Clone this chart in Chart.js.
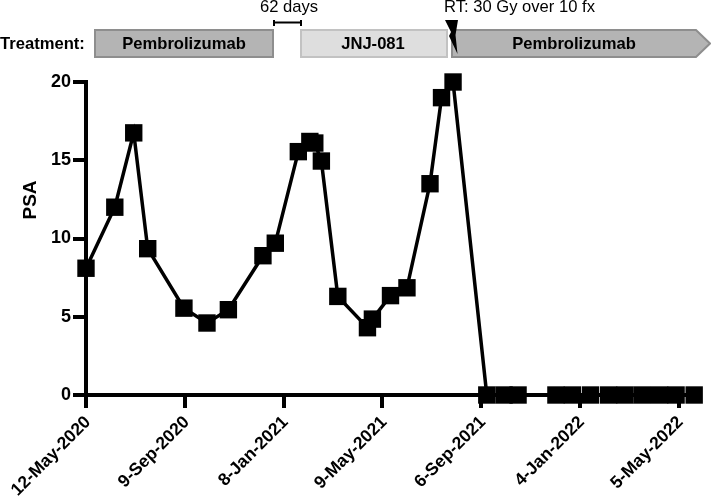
<!DOCTYPE html>
<html>
<head>
<meta charset="utf-8">
<style>
	html, body { margin: 0; padding: 0; background: #fff; }
	#wrap { width: 711px; height: 496px; }
</style>
<script src="https://cdn.jsdelivr.net/npm/chart.js@4"></script>
</head>
<body>
<div id="wrap"><canvas id="psa" width="711" height="496"></canvas></div>
<script>
// days since 12-May-2020
const days = [0, 35, 58, 75, 119, 147, 173, 215, 230, 258, 272, 278, 286, 306, 342, 348, 370, 390, 418, 432, 446,
	487, 508, 525, 571, 591, 613, 635, 655, 676, 697, 717, 739];
const psa = [8.1, 12, 16.75, 9.35, 5.55, 4.6, 5.45, 8.9, 9.7, 15.55, 16.2, 16.1, 14.95, 6.3, 4.3, 4.85, 6.35, 6.85, 13.5, 19, 20,
	0, 0, 0, 0, 0, 0, 0, 0, 0, 0, 0, 0];
const tickLabels = ["12-May-2020", "9-Sep-2020", "8-Jan-2021", "9-May-2021", "6-Sep-2021", "4-Jan-2022", "5-May-2022"];
const treatments = ["Pembrolizumab", "JNJ-081", "Pembrolizumab"];

const BOLD = "bold 16.6px 'Liberation Sans'";
const REGULAR = "16.6px 'Liberation Sans'";

function box(ctx, x0, x1, fill, stroke) {
	ctx.fillStyle = fill;
	ctx.strokeStyle = stroke;
	ctx.lineWidth = 2;
	ctx.fillRect(x0, 30, x1 - x0, 27);
	ctx.strokeRect(x0, 30, x1 - x0, 27);
}

const treatmentBand = {
	id: "treatmentBand",
	afterDraw(chart) {
		const ctx = chart.ctx;
		ctx.save();

		box(ctx, 95, 273, "#b4b4b4", "#8e8e8e");
		box(ctx, 301, 447, "#dedede", "#c2c2c2");

		// last treatment is still going on, so an arrow
		ctx.fillStyle = "#b4b4b4";
		ctx.strokeStyle = "#8e8e8e";
		ctx.lineWidth = 2;
		ctx.beginPath();
		ctx.moveTo(452, 30);
		ctx.lineTo(696, 30);
		ctx.lineTo(710, 43.5);
		ctx.lineTo(696, 57);
		ctx.lineTo(452, 57);
		ctx.closePath();
		ctx.fill();
		ctx.stroke();

		ctx.fillStyle = "#000";
		ctx.textBaseline = "middle";
		ctx.font = BOLD;
		ctx.textAlign = "left";
		ctx.fillText("Treatment:", 0, 44);
		ctx.textAlign = "center";
		ctx.fillText(treatments[0], 184, 44);
		ctx.fillText(treatments[1], 373, 44);
		ctx.fillText(treatments[2], 574, 44);

		ctx.font = REGULAR;
		ctx.fillText("62 days", 289, 7);
		ctx.textAlign = "left";
		ctx.fillText("RT: 30 Gy over 10 fx", 444, 7);

		// 62 days bracket
		ctx.strokeStyle = "#000";
		ctx.lineWidth = 2;
		ctx.beginPath();
		ctx.moveTo(274, 20);
		ctx.lineTo(274, 26);
		ctx.moveTo(274, 22.5);
		ctx.lineTo(301, 22.5);
		ctx.moveTo(301, 20);
		ctx.lineTo(301, 26);
		ctx.stroke();

		// RT bolt
		ctx.beginPath();
		ctx.moveTo(445, 20);
		ctx.lineTo(458, 20);
		ctx.lineTo(455.5, 35);
		ctx.lineTo(457.5, 54);
		ctx.lineTo(449, 36);
		ctx.lineTo(451, 32);
		ctx.closePath();
		ctx.fill();

		// y title sits above the axis middle
		ctx.font = "bold 19px 'Liberation Sans'";
		ctx.textAlign = "center";
		ctx.translate(31, 200);
		ctx.rotate(-Math.PI / 2);
		ctx.fillText("PSA", 0, 0);

		ctx.restore();
	},
};

new Chart(document.getElementById("psa"), {
	type: "line",
	data: {
		datasets: [
			{
				data: days.map((d, i) => ({ x: d, y: psa[i] })),
				borderColor: "#000",
				backgroundColor: "#000",
				borderWidth: 3.5,
				pointStyle: "rect",
				pointRadius: 12.3,
				pointHoverRadius: 12.3,
				pointBorderWidth: 0,
				tension: 0,
				clip: false,
			},
		],
	},
	options: {
		responsive: false,
		animation: false,
		layout: { padding: { top: 82, right: 16, left: 0, bottom: 0 } },
		plugins: { legend: { display: false }, tooltip: { enabled: false } },
		scales: {
			x: {
				type: "linear",
				min: 0,
				max: 740,
				afterFit: (scale) => {
					scale.height = 101;
					scale.paddingLeft = 0;
					scale.paddingRight = 0;
				},
				grid: { drawOnChartArea: false, color: "#000", lineWidth: 4, tickLength: 13 },
				border: { color: "#000", width: 4 },
				ticks: {
					stepSize: 120,
					includeBounds: false,
					autoSkip: false,
					minRotation: 45,
					maxRotation: 45,
					align: "end",
					padding: 4,
					labelOffset: 2,
					color: "#000",
					font: { family: "'Liberation Sans'", size: 17.5, weight: "bold" },
					callback: (v) => tickLabels[v / 120],
				},
			},
			y: {
				min: 0,
				max: 20,
				afterFit: (scale) => {
					scale.width = 86;
				},
				grid: { drawOnChartArea: false, color: "#000", lineWidth: 4, tickLength: 13 },
				border: { color: "#000", width: 4 },
				ticks: {
					stepSize: 5,
					padding: 2,
					color: "#000",
					font: { family: "'Liberation Sans'", size: 18, weight: "bold" },
				},
			},
		},
	},
	plugins: [treatmentBand],
});
</script>
</body>
</html>
